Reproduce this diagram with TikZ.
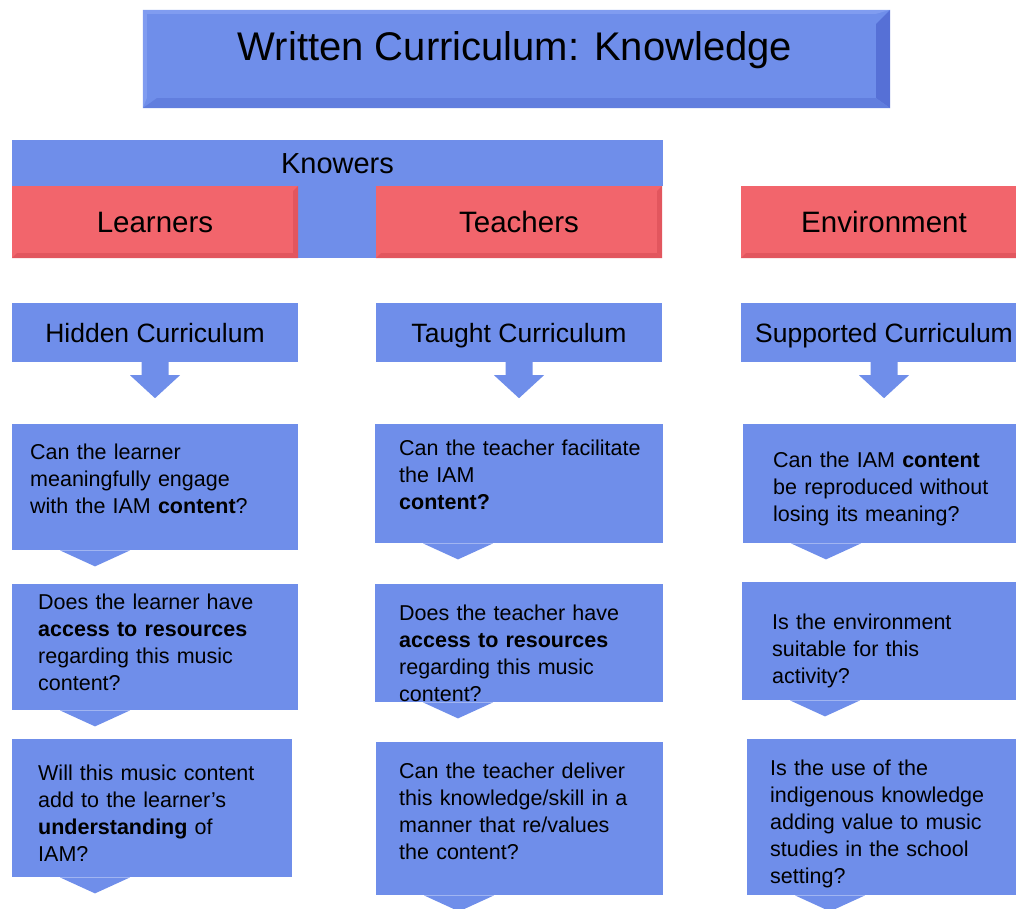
\documentclass[tikz,border=0pt]{standalone}
\usepackage{fontspec}
\setmainfont{Liberation Sans}
\usepackage{tikz}
\usetikzlibrary{positioning}

\definecolor{boxblue}{RGB}{111,142,234}
\definecolor{boxbluedark}{RGB}{86,112,214}
\definecolor{boxbluemid}{RGB}{97,126,222}
\definecolor{boxbluelight}{RGB}{128,156,240}
\definecolor{boxred}{RGB}{242,101,108}
\definecolor{boxreddark}{RGB}{226,86,94}

\tikzset{
  titlebox/.style={fill=boxblue, inner sep=0pt, minimum width=747pt, minimum height=98pt},
  titletext/.style={inner sep=0pt, font=\fontsize{40}{48}\selectfont},
  headbar/.style={fill=boxblue, inner sep=0pt, text height=21pt, text depth=0pt, font=\fontsize{29}{34}\selectfont},
  knower/.style={fill=boxred, inner sep=0pt, minimum width=286pt, minimum height=72pt, text height=21pt, text depth=0pt, font=\fontsize{29.5}{34}\selectfont},
  curric/.style={fill=boxblue, inner sep=0pt, minimum width=286pt, minimum height=59pt, text height=19pt, text depth=0pt, font=\fontsize{26.5}{32}\selectfont},
  qbox/.style={fill=boxblue, inner sep=0pt, anchor=north west},
  qtext/.style={inner sep=0pt, anchor=north west, text width=265pt, align=left, font=\fontsize{21.5}{26.8}\selectfont},
}

% darker bands on the right and bottom edge of a raised box
\newcommand{\bevel}[5]{%
  \fill[#4] (#1.north east) -- (#1.south east) -- ([shift={(-#2,-#3)}]#1.south east) -- ([shift={(-#2,#2)}]#1.north east) -- cycle;
  \fill[#5] (#1.south west) -- ([shift={(#2,-#3)}]#1.south west) -- ([shift={(-#2,-#3)}]#1.south east) -- (#1.south east) -- cycle;
}
% block arrow hanging under a heading box
\newcommand{\blockarrow}[1]{%
  \fill[boxblue] ([xshift=-13.5pt]#1.south) -- ++(0,13) -- ++(-11.5,0) -- ([shift={(0,36)}]#1.south)
    -- ([shift={(25,13)}]#1.south) -- ++(-11.5,0) -- ([xshift=13.5pt]#1.south) -- cycle;
}
% pointer under a question box
\newcommand{\tail}[1]{%
  \fill[boxblue] ([xshift=48pt]#1.south west) -- ([shift={(83,16)}]#1.south west) -- ([xshift=118pt]#1.south west) -- cycle;
}

\begin{document}
\begin{tikzpicture}[x=1pt, y=-1pt]
\clip (0,0) rectangle (1016,909);

% title
\node[titlebox] (title) at (516.5,59) {};
\fill[boxbluelight] (title.north west) -- (title.north east) -- ([shift={(-14,4)}]title.north east) -- ([shift={(4,4)}]title.north west) -- ([shift={(4,-10)}]title.south west) -- (title.south west) -- cycle;
\bevel{title}{14}{10}{boxbluedark}{boxbluemid}
\node[titletext] (titlelbl) at (515,50) {Written Curriculum: Knowledge};

% knowers and environment
\node[headbar, minimum width=651pt, minimum height=46pt] (knowers) at (337.5,163) {Knowers};
\node[knower] (learners) at (155,222) {Learners};
\node[knower] (teachers) at (519,222) {Teachers};
\node[knower] (environment) at (884,222) {Environment};
\fill[boxblue] (learners.north east) rectangle (teachers.south west);
\bevel{learners}{5}{5}{boxreddark}{boxreddark}
\bevel{teachers}{5}{5}{boxreddark}{boxreddark}
\bevel{environment}{5}{5}{boxreddark}{boxreddark}

% curricula
\node[curric] (hidden) at (155,332.5) {Hidden Curriculum};
\node[curric] (taught) at (519,332.5) {Taught Curriculum};
\node[curric] (supported) at (884,332.5) {Supported Curriculum};
\blockarrow{hidden}
\blockarrow{taught}
\blockarrow{supported}

% learners column
\node[qbox, minimum width=286pt, minimum height=126pt] (q11) at (12,424) {};
\node[qtext] (q11t) at ([shift={(18,17)}]q11.north west) {\strut Can the learner\\meaningfully engage\\with the IAM \textbf{content}?};
\tail{q11}
\node[qbox, minimum width=286pt, minimum height=126pt] (q12) at (12,584) {};
\node[qtext] (q12t) at ([shift={(26,7)}]q12.north west) {\strut Does the learner have\\\textbf{access to resources}\\regarding this music\\content?};
\tail{q12}
\node[qbox, minimum width=280pt, minimum height=138pt] (q13) at (12,739) {};
\node[qtext] (q13t) at ([shift={(26,23)}]q13.north west) {\strut Will this music content\\add to the learner's\\\textbf{understanding} of\\IAM?};
\tail{q13}

% teachers column
\node[qbox, minimum width=288pt, minimum height=119pt] (q21) at (375,424) {};
\node[qtext] (q21t) at ([shift={(24,13)}]q21.north west) {\strut Can the teacher facilitate\\the IAM\\\textbf{content?}};
\tail{q21}
\node[qbox, minimum width=288pt, minimum height=118pt] (q22) at (375,584) {};
\node[qtext] (q22t) at ([shift={(24,18)}]q22.north west) {\strut Does the teacher have\\\textbf{access to resources}\\regarding this music\\content?};
\tail{q22}
\node[qbox, minimum width=287pt, minimum height=153pt] (q23) at (376,742) {};
\node[qtext] (q23t) at ([shift={(23,18)}]q23.north west) {\strut Can the teacher deliver\\this knowledge/skill in a\\manner that re/values\\the content?};
\tail{q23}

% environment column
\node[qbox, minimum width=288pt, minimum height=119pt] (q31) at (743,424) {};
\node[qtext] (q31t) at ([shift={(30,25)}]q31.north west) {\strut Can the IAM \textbf{content}\\be reproduced without\\losing its meaning?};
\tail{q31}
\node[qbox, minimum width=288pt, minimum height=118pt] (q32) at (742,582) {};
\node[qtext] (q32t) at ([shift={(30,29)}]q32.north west) {\strut Is the environment\\suitable for this\\activity?};
\tail{q32}
\node[qbox, minimum width=288pt, minimum height=156pt] (q33) at (747,739) {};
\node[qtext] (q33t) at ([shift={(23,18)}]q33.north west) {\strut Is the use of the\\indigenous knowledge\\adding value to music\\studies in the school\\setting?};
\tail{q33}
\end{tikzpicture}
\end{document}
